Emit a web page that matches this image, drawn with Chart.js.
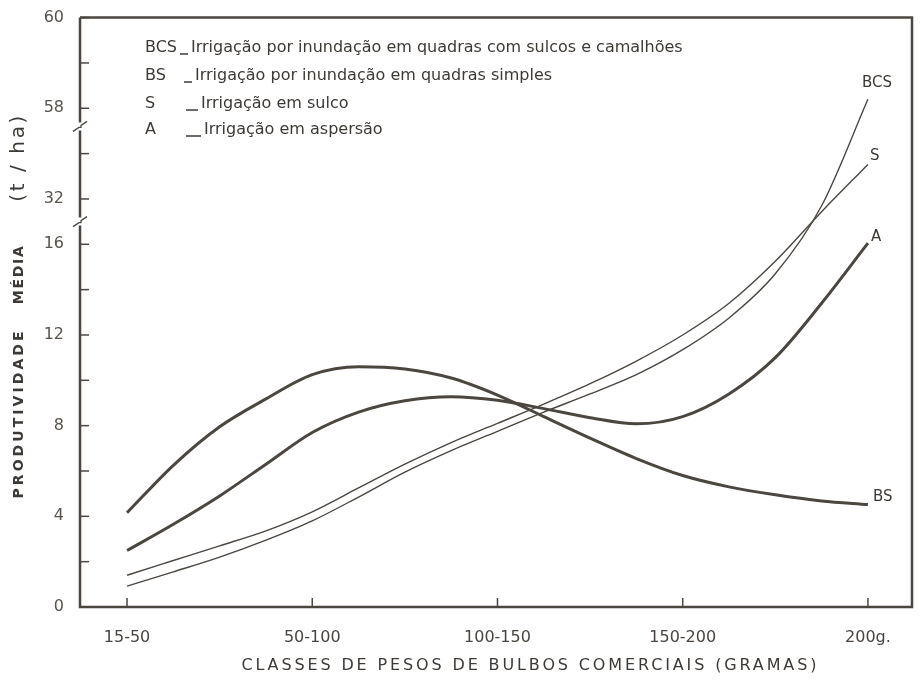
<!DOCTYPE html>
<html>
<head>
<meta charset="utf-8">
<script src="https://cdn.jsdelivr.net/npm/chart.js@4.4.1/dist/chart.umd.min.js"></script>
<style>
  body { margin: 0; background: #fff; }
  canvas { display: block; }
</style>
</head>
<body>
<canvas id="grafico" width="920" height="682"></canvas>
<script>
// classes de peso (eixo x)
const classes = ['15-50', '50-100', '100-150', '150-200', '200g.'];
// posições das leituras ao longo do eixo x (em classes)
const posicoes = [0, 0.25, 0.5, 0.75, 1, 1.25, 1.5, 1.75, 2, 2.25, 2.5, 2.75, 3, 3.25, 3.5, 3.75, 4];

// produtividade média (t/ha)
const bcs = [0.92, 1.55, 2.2, 2.95, 3.8, 4.85, 5.95, 6.9, 7.75, 8.6, 9.4, 10.25, 11.35, 12.75, 14.7, 29.6, 58.2];
const bs  = [4.16, 6.25, 7.95, 9.18, 10.25, 10.6, 10.5, 10.1, 9.35, 8.4, 7.45, 6.55, 5.8, 5.3, 4.95, 4.68, 4.52];
const s   = [1.4, 2.05, 2.7, 3.36, 4.2, 5.25, 6.3, 7.25, 8.1, 8.95, 9.85, 10.85, 12.0, 13.4, 15.25, 27.5, 41.9];
const a   = [2.49, 3.65, 4.9, 6.3, 7.7, 8.6, 9.1, 9.28, 9.12, 8.75, 8.35, 8.08, 8.4, 9.4, 11.0, 13.4, 16.4];

// rótulos do eixo y (eixo interrompido)
const rotulosY = [0, 4, 8, 12, 16, 32, 58, 60];

// legenda
const siglas = ['BCS', 'BS', 'S', 'A'];
const descricoes = [
  'Irrigação por inundação em quadras com sulcos e camalhões',
  'Irrigação por inundação em quadras simples',
  'Irrigação em sulco',
  'Irrigação em aspersão'
];

// converte o valor real para a posição no eixo quebrado
function noEixo(v) {
  if (v <= 16) return v;
  if (v <= 32) return 16 + (v - 16) / 8;
  if (v <= 58) return 18 + (v - 32) * 4 / 26;
  return 22 + (v - 58) * 2;
}

const cor = '#4b4640';
const fonte = '"DejaVu Sans", sans-serif';

function serie(nome, valores, largura, dx, dy) {
  return {
    label: nome,
    data: posicoes.map((x, i) => ({ x: x, y: noEixo(valores[i]) })),
    borderColor: cor,
    borderWidth: largura,
    pointRadius: 0,
    cubicInterpolationMode: 'monotone',
    fill: false,
    rotulo: { dx: dx, dy: dy }
  };
}

// texto espaçado para caber numa largura
function textoEspacado(ctx, texto, x, y, largura) {
  ctx.letterSpacing = '0px';
  const w = ctx.measureText(texto).width;
  const esp = Math.max(0, (largura - w) / (texto.length - 1));
  ctx.letterSpacing = esp + 'px';
  ctx.fillText(texto, x + esp / 2, y);
  ctx.letterSpacing = '0px';
}

const moldura = {
  id: 'moldura',
  afterDraw(chart) {
    const ctx = chart.ctx;
    const ar = chart.chartArea;
    const ys = chart.scales.y;
    const xs = chart.scales.x;
    ctx.save();
    ctx.strokeStyle = cor;
    ctx.lineCap = 'butt';

    // quebras do eixo y
    const q1 = ys.getPixelForValue(21.2);
    const q2 = ys.getPixelForValue(17);

    // moldura
    ctx.lineWidth = 2.5;
    ctx.beginPath();
    ctx.moveTo(ar.left, ar.top);
    ctx.lineTo(ar.right, ar.top);
    ctx.lineTo(ar.right, ar.bottom);
    ctx.lineTo(ar.left, ar.bottom);
    ctx.lineTo(ar.left, q2 + 4);
    ctx.moveTo(ar.left, q2 - 4);
    ctx.lineTo(ar.left, q1 + 4);
    ctx.moveTo(ar.left, q1 - 4);
    ctx.lineTo(ar.left, ar.top);
    ctx.stroke();

    ctx.lineWidth = 1.3;
    [q1, q2].forEach(q => {
      ctx.beginPath();
      ctx.moveTo(ar.left - 7, q + 5);
      ctx.lineTo(ar.left - 1, q + 1);
      ctx.lineTo(ar.left + 1, q + 1);
      ctx.lineTo(ar.left + 1, q - 1);
      ctx.lineTo(ar.left + 7, q - 5);
      ctx.stroke();
    });

    // marcas para dentro
    ctx.lineWidth = 1.5;
    ys.ticks.forEach(t => {
      const py = ys.getPixelForValue(t.value);
      ctx.beginPath();
      ctx.moveTo(ar.left, py);
      ctx.lineTo(ar.left + 9, py);
      ctx.stroke();
    });
    xs.ticks.forEach(t => {
      const px = xs.getPixelForValue(t.value);
      ctx.beginPath();
      ctx.moveTo(px, ar.bottom);
      ctx.lineTo(px, ar.bottom - 9);
      ctx.stroke();
    });

    // nomes das curvas
    ctx.fillStyle = '#3d3935';
    ctx.font = '15px ' + fonte;
    ctx.textAlign = 'left';
    ctx.textBaseline = 'middle';
    chart.data.datasets.forEach((ds, i) => {
      const pts = chart.getDatasetMeta(i).data;
      const ult = pts[pts.length - 1];
      ctx.fillText(ds.label, ult.x + ds.rotulo.dx, ult.y + ds.rotulo.dy);
    });

    // legenda
    ctx.font = '16px ' + fonte;
    const linhas = [48, 76, 104, 130];
    const xTraco = [180, 184, 186, 186];
    const xTexto = [191, 195, 201, 204];
    siglas.forEach((sg, i) => {
      const yy = linhas[i];
      ctx.fillText(sg, 145, yy);
      ctx.lineWidth = 1.6;
      ctx.beginPath();
      ctx.moveTo(xTraco[i], yy + 6);
      ctx.lineTo(xTexto[i] - 3, yy + 6);
      ctx.stroke();
      ctx.fillText(descricoes[i], xTexto[i], yy);
    });

    // título do eixo x
    ctx.font = '16px ' + fonte;
    ctx.textAlign = 'left';
    textoEspacado(ctx, 'CLASSES DE PESOS DE BULBOS COMERCIAIS (GRAMAS)', 240, 666, 575);

    // título do eixo y
    ctx.translate(19, 0);
    ctx.rotate(-Math.PI / 2);
    ctx.font = 'bold 14px ' + fonte;
    textoEspacado(ctx, 'PRODUTIVIDADE', -500, 0, 167);
    textoEspacado(ctx, 'MÉDIA', -305, 0, 58);
    ctx.font = '20px ' + fonte;
    textoEspacado(ctx, '(t / ha)', -203, 0, 86);
    ctx.restore();
  }
};

new Chart(document.getElementById('grafico'), {
  type: 'line',
  data: {
    datasets: [
      serie('BCS', bcs, 1.4, -6, -16),
      serie('BS', bs, 3, 5, -7),
      serie('S', s, 1.4, 2, -8),
      serie('A', a, 3, 3, -6)
    ]
  },
  options: {
    responsive: false,
    animation: false,
    layout: { padding: { top: 10, right: 8, left: 0, bottom: 0 } },
    plugins: { legend: { display: false }, tooltip: { enabled: false } },
    scales: {
      x: {
        type: 'linear',
        min: -0.254,
        max: 4.238,
        grid: { display: false },
        border: { display: false },
        afterBuildTicks: sc => { sc.ticks = classes.map((c, i) => ({ value: i })); },
        afterFit: sc => { sc.height = 75; },
        ticks: {
          autoSkip: false,
          maxRotation: 0,
          padding: 13,
          color: '#4a4540',
          font: { family: fonte, size: 16 },
          callback: v => classes[v] !== undefined ? classes[v] : ''
        }
      },
      y: {
        min: 0,
        max: 26,
        grid: { display: false },
        border: { display: false },
        afterBuildTicks: sc => {
          const t = [];
          for (let p = 0; p <= 26; p += 2) t.push({ value: p });
          sc.ticks = t;
        },
        afterFit: sc => { sc.width = 80; },
        ticks: {
          autoSkip: false,
          padding: 8,
          color: '#58534c',
          font: { family: fonte, size: 16 },
          callback: v => {
            const r = rotulosY.find(x => Math.abs(noEixo(x) - v) < 1e-6);
            return r !== undefined ? String(r) : '';
          }
        }
      }
    }
  },
  plugins: [moldura]
});
</script>
</body>
</html>
